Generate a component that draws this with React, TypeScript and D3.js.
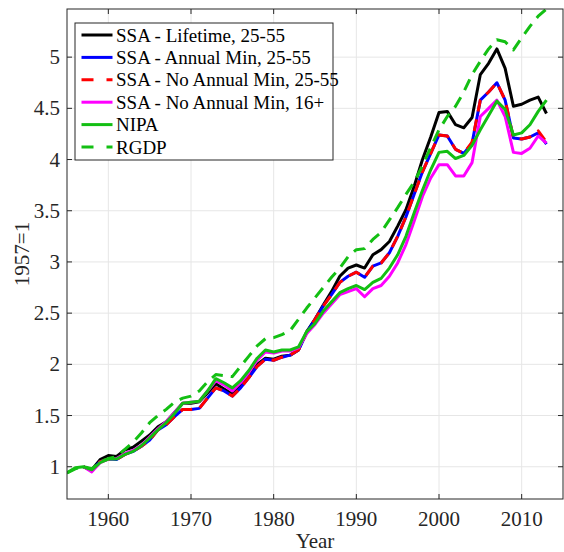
import React from "react";
import * as d3 from "d3";

// SSA series start in 1957, NIPA and RGDP in 1955
const ssaStart = 1957;
const macroStart = 1955;

const ssaLifetime = [
  1.0, 0.97, 1.07, 1.11, 1.1, 1.165, 1.19, 1.25, 1.31, 1.39, 1.44, 1.53, 1.62, 1.62, 1.635, 1.72,
  1.81, 1.76, 1.71, 1.79, 1.88, 2.0, 2.06, 2.05, 2.08, 2.09, 2.14, 2.32, 2.44, 2.58, 2.71, 2.86,
  2.94, 2.97, 2.94, 3.07, 3.12, 3.2, 3.35, 3.51, 3.74, 4.0, 4.22, 4.46, 4.47, 4.34, 4.31, 4.41,
  4.83, 4.94, 5.08, 4.89, 4.52, 4.54, 4.58, 4.61, 4.45,
];
const ssaAnnualMin = [
  1.0, 0.96, 1.05, 1.075, 1.07, 1.12, 1.15, 1.2, 1.26, 1.36, 1.41, 1.49, 1.56, 1.56, 1.57, 1.67,
  1.77, 1.74, 1.69, 1.77, 1.87, 1.98, 2.05, 2.04, 2.07, 2.09, 2.14, 2.31, 2.44, 2.57, 2.68, 2.8,
  2.86, 2.9, 2.85, 2.96, 2.99, 3.09, 3.25, 3.44, 3.66, 3.88, 4.06, 4.24, 4.23, 4.1, 4.06, 4.16,
  4.58, 4.66, 4.75, 4.58, 4.21, 4.2, 4.22, 4.26, 4.15,
];
const ssaNoMin = [
  1.0, 0.96, 1.05, 1.075, 1.07, 1.12, 1.15, 1.2, 1.26, 1.36, 1.41, 1.49, 1.56, 1.56, 1.57, 1.67,
  1.77, 1.74, 1.69, 1.77, 1.87, 1.98, 2.05, 2.04, 2.07, 2.09, 2.14, 2.31, 2.44, 2.57, 2.68, 2.8,
  2.86, 2.9, 2.85, 2.96, 2.99, 3.09, 3.25, 3.44, 3.66, 3.88, 4.06, 4.24, 4.23, 4.1, 4.06, 4.17,
  4.58, 4.66, 4.75, 4.58, 4.21, 4.2, 4.22, 4.28, 4.17,
];
const ssaNoMin16 = [
  1.0, 0.95, 1.04, 1.075, 1.08, 1.13, 1.16, 1.21, 1.29, 1.37, 1.44, 1.53, 1.62, 1.63, 1.64, 1.74,
  1.84, 1.8, 1.74, 1.82, 1.92, 2.04, 2.12, 2.11, 2.13, 2.13, 2.16, 2.3, 2.39, 2.5, 2.59, 2.68,
  2.71, 2.74, 2.66, 2.74, 2.77, 2.86, 2.99, 3.17, 3.4, 3.64, 3.82, 3.95, 3.95, 3.84, 3.84, 3.97,
  4.42, 4.5, 4.58, 4.42, 4.07, 4.06, 4.11, 4.23, 4.16,
];
const nipa = [
  0.94, 0.99, 1.0, 0.97, 1.04, 1.075, 1.075, 1.12, 1.15, 1.205, 1.28, 1.36, 1.43, 1.52, 1.62, 1.63,
  1.64, 1.74, 1.86, 1.82, 1.77, 1.84, 1.94, 2.06, 2.14, 2.12, 2.14, 2.14, 2.17, 2.32, 2.4, 2.52,
  2.61, 2.7, 2.74, 2.77, 2.73, 2.8, 2.84, 2.94, 3.07, 3.25, 3.48, 3.7, 3.9, 4.07, 4.08, 4.01,
  4.04, 4.14, 4.29, 4.43, 4.57, 4.49, 4.24, 4.26, 4.34, 4.47, 4.58,
];
const rgdp = [
  0.94, 0.98, 1.0, 0.98, 1.05, 1.08, 1.1, 1.17, 1.24, 1.33, 1.43, 1.5, 1.56, 1.63, 1.67, 1.69,
  1.74, 1.83, 1.9, 1.89, 1.88, 1.98, 2.08, 2.18, 2.25, 2.26, 2.29, 2.33, 2.44, 2.55, 2.65, 2.75,
  2.85, 2.94, 3.05, 3.12, 3.13, 3.22, 3.29, 3.41, 3.53, 3.66, 3.78, 3.94, 4.12, 4.29, 4.42, 4.52,
  4.66, 4.83, 4.96, 5.08, 5.17, 5.15, 5.07, 5.19, 5.3, 5.4, 5.47,
];

const xTicks = [1960, 1970, 1980, 1990, 2000, 2010];
const yTicks = [1, 1.5, 2, 2.5, 3, 3.5, 4, 4.5, 5];

const series = [
  { name: "SSA - Lifetime, 25-55", values: ssaLifetime, start: ssaStart, color: "#000000", dash: "" },
  { name: "SSA - Annual Min, 25-55", values: ssaAnnualMin, start: ssaStart, color: "#0000ff", dash: "" },
  { name: "SSA - No Annual Min, 25-55", values: ssaNoMin, start: ssaStart, color: "#ff0000", dash: "12,8" },
  { name: "SSA - No Annual Min, 16+", values: ssaNoMin16, start: ssaStart, color: "#ff00ff", dash: "" },
  { name: "NIPA", values: nipa, start: macroStart, color: "#13bf13", dash: "" },
  { name: "RGDP", values: rgdp, start: macroStart, color: "#13bf13", dash: "12,8" },
];

const width = 564;
const height = 552;
const margin = { top: 9, right: 1, bottom: 53, left: 67 };
const font = "'Liberation Serif', 'Times New Roman', serif";
const axisColor = "#262626";

export default function App() {
  const x = d3.scaleLinear().domain([1955, 2015]).range([margin.left, width - margin.right]);
  const y = d3.scaleLinear().domain([0.685, 5.47]).range([height - margin.bottom, margin.top]);

  const line = (start: number) =>
    d3
      .line<number>()
      .x((_, i) => x(start + i))
      .y((d) => y(d));

  const x0 = margin.left;
  const x1 = width - margin.right;
  const y0 = height - margin.bottom;
  const y1 = margin.top;

  const legendX = 75;
  const legendY = 23;
  const rowH = 22.4;
  const textStyle = { fontFamily: font };

  return (
    <svg
      width={width}
      height={height}
      style={{ position: "fixed", left: 0, top: 0, background: "#fff" }}
    >
      <rect x={0} y={0} width={width} height={height} fill="#fff" />
      {/* grid */}
      <g stroke="#e6e6e6" strokeWidth={1}>
        {xTicks.map((t) => (
          <line key={"gx" + t} x1={x(t)} x2={x(t)} y1={y1} y2={y0} />
        ))}
        {yTicks.map((t) => (
          <line key={"gy" + t} x1={x0} x2={x1} y1={y(t)} y2={y(t)} />
        ))}
      </g>

      <defs>
        <clipPath id="plot">
          <rect x={x0} y={y1} width={x1 - x0} height={y0 - y1} />
        </clipPath>
      </defs>

      {/* data lines */}
      <g clipPath="url(#plot)" fill="none" strokeWidth={3} strokeLinejoin="round">
        {series.map((s) => (
          <path
            key={s.name}
            d={line(s.start)(s.values) || ""}
            stroke={s.color}
            strokeDasharray={s.dash || undefined}
          />
        ))}
      </g>

      {/* axes box and ticks */}
      <g stroke={axisColor} strokeWidth={1}>
        <rect x={x0} y={y1} width={x1 - x0} height={y0 - y1} fill="none" />
        {xTicks.map((t) => (
          <g key={"tx" + t}>
            <line x1={x(t)} x2={x(t)} y1={y0} y2={y0 - 5} />
            <line x1={x(t)} x2={x(t)} y1={y1} y2={y1 + 5} />
          </g>
        ))}
        {yTicks.map((t) => (
          <g key={"ty" + t}>
            <line x1={x0} x2={x0 + 5} y1={y(t)} y2={y(t)} />
            <line x1={x1} x2={x1 - 5} y1={y(t)} y2={y(t)} />
          </g>
        ))}
      </g>

      <g fill={axisColor} fontSize={21}>
        {xTicks.map((t) => (
          <text key={"lx" + t} x={x(t)} y={y0 + 27} textAnchor="middle" style={textStyle}>
            {t}
          </text>
        ))}
        {yTicks.map((t) => (
          <text key={"ly" + t} x={x0 - 7} y={y(t) + 7} textAnchor="end" style={textStyle}>
            {t}
          </text>
        ))}
        <text x={(x0 + x1) / 2} y={548} textAnchor="middle" style={textStyle}>
          Year
        </text>
        <text
          transform={`translate(29, ${(y0 + y1) / 2}) rotate(-90)`}
          textAnchor="middle"
          style={textStyle}
        >
          1957=1
        </text>
      </g>

      {/* legend */}
      <g>
        <rect x={legendX} y={legendY} width={258} height={137} fill="#fff" stroke={axisColor} strokeWidth={1} />
        {series.map((s, i) => {
          const cy = legendY + 12 + i * rowH;
          return (
            <g key={"leg" + s.name}>
              <line
                x1={legendX + 6.5}
                x2={legendX + 37.5}
                y1={cy}
                y2={cy}
                stroke={s.color}
                strokeWidth={3}
                strokeDasharray={s.dash ? "12,13" : undefined}
              />
              <text x={legendX + 41} y={cy + 6.5} fontSize={19} fill="#000" style={textStyle}>
                {s.name}
              </text>
            </g>
          );
        })}
      </g>
    </svg>
  );
}
